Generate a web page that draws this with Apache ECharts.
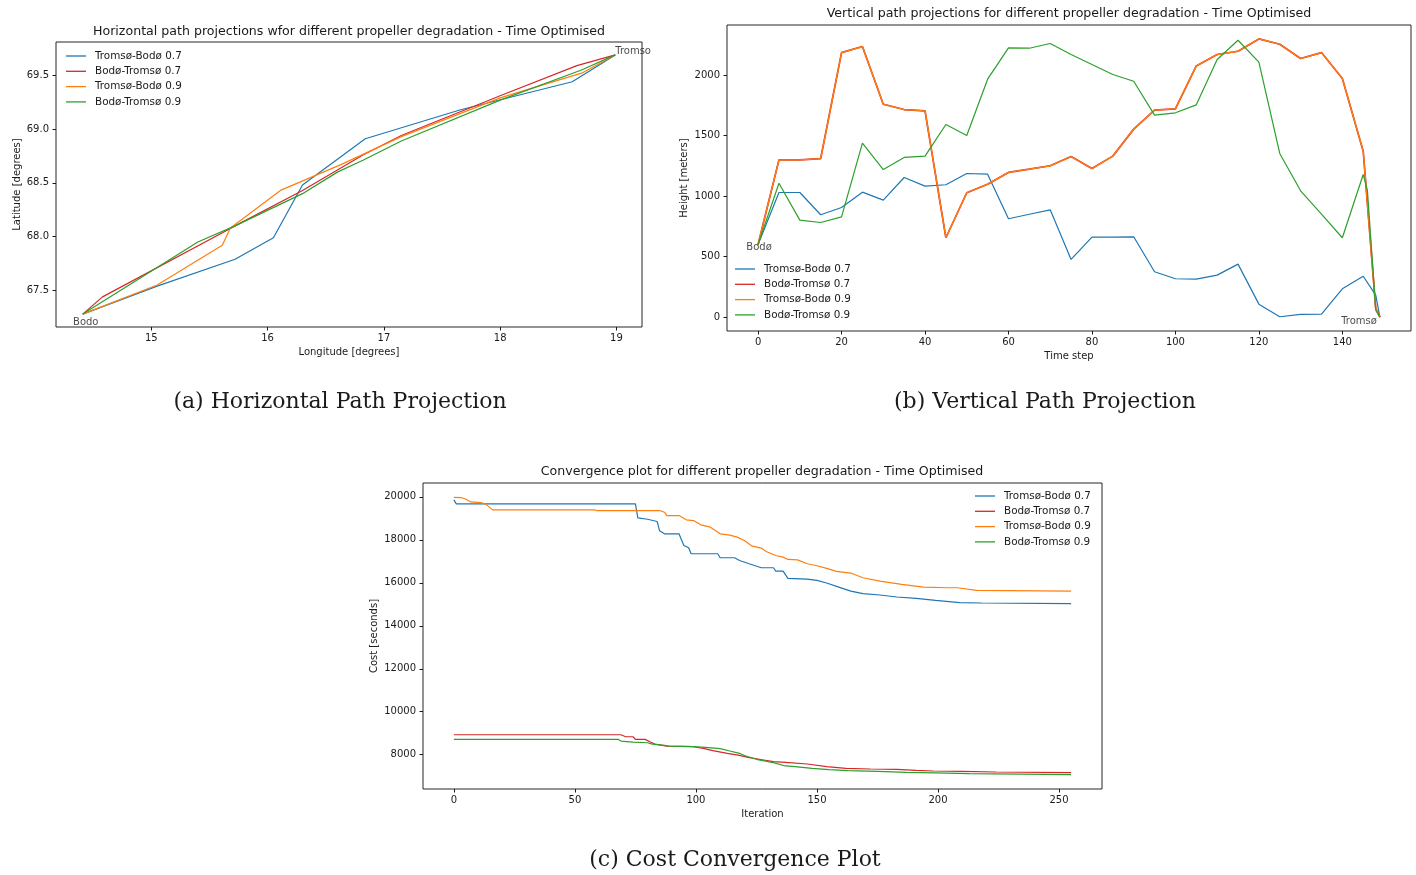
<!DOCTYPE html>
<html>
<head>
<meta charset="utf-8">
<title>Propeller degradation - Time Optimised</title>
<script src="https://cdn.jsdelivr.net/npm/echarts@6/dist/echarts.min.js"></script>
<style>
  html, body { margin: 0; padding: 0; background: #ffffff; }
  #chart { width: 1416px; height: 875px; }
</style>
</head>
<body>
<div id="chart"></div>
<script>
// ---- Series names and colours ----
const seriesNames = ['Tromsø-Bodø 0.7', 'Bodø-Tromsø 0.7', 'Tromsø-Bodø 0.9', 'Bodø-Tromsø 0.9'];
const seriesColors = ['#1f77b4', '#d62728', '#ff7f0e', '#2ca02c'];

// ---- (a) Horizontal path: [longitude, latitude] ----
const hPathTB07 = [[14.41,67.28],[15.05,67.54],[15.72,67.79],[16.05,67.99],[16.30,68.48],[16.84,68.91],[17.66,69.18],[18.62,69.44],[18.99,69.69]];
const hPathBT07 = [[14.41,67.28],[14.58,67.44],[15.72,68.10],[16.30,68.43],[16.82,68.76],[17.15,68.94],[18.00,69.31],[18.66,69.59],[18.99,69.69]];
const hPathTB09 = [[14.41,67.28],[15.05,67.55],[15.61,67.92],[15.68,68.08],[16.11,68.43],[16.63,68.67],[17.15,68.93],[18.00,69.29],[18.70,69.52],[18.99,69.69]];
const hPathBT09 = [[14.41,67.28],[15.40,67.95],[15.72,68.10],[16.30,68.40],[16.60,68.60],[16.82,68.71],[17.15,68.89],[18.00,69.27],[18.70,69.55],[18.99,69.69]];
const lonTicks = [15, 16, 17, 18, 19];
const latTicks = [67.5, 68.0, 68.5, 69.0, 69.5];
const hStart = { name: 'Bodo', lon: 14.41, lat: 67.28 };
const hEnd = { name: 'Tromso', lon: 18.99, lat: 69.69 };

// ---- (b) Vertical path: [time step, height] ----
const vPathTB07 = [[0,600],[5,1030],[10,1030],[15,846],[20,906],[25,1033],[30,967],[35,1154],[40,1083],[45,1094],[50,1187],[55,1182],[60,813],[65,850],[70,887],[75,477],[80,661],[85,661],[90,664],[95,375],[100,317],[105,314],[110,347],[115,438],[120,107],[125,3],[130,22],[135,25],[140,234],[145,338],[148,182],[149,0]];
const vPathBT07 = [[0,600],[5,1300],[10,1300],[15,1311],[20,2187],[25,2237],[30,1760],[35,1716],[40,1705],[45,656],[50,1028],[55,1099],[60,1196],[65,1223],[70,1251],[75,1328],[80,1229],[85,1331],[90,1554],[95,1711],[100,1722],[105,2077],[110,2171],[115,2198],[120,2300],[125,2256],[130,2138],[135,2187],[140,1973],[145,1372],[148,72],[149,0]];
const vPathTB09 = [[0,600],[5,1300],[10,1300],[15,1311],[20,2187],[25,2237],[30,1760],[35,1716],[40,1705],[45,656],[50,1028],[55,1099],[60,1196],[65,1223],[70,1251],[75,1328],[80,1229],[85,1331],[90,1554],[95,1711],[100,1722],[105,2077],[110,2171],[115,2198],[120,2300],[125,2256],[130,2138],[135,2187],[140,1973],[145,1372],[148,72],[149,0]];
const vPathBT09 = [[0,600],[5,1107],[10,802],[15,782],[20,829],[25,1438],[30,1220],[35,1320],[40,1331],[45,1592],[50,1501],[55,1967],[60,2226],[65,2223],[70,2262],[75,2171],[80,2088],[85,2006],[90,1950],[95,1670],[100,1689],[105,1755],[110,2130],[115,2289],[120,2108],[125,1353],[130,1044],[135,851],[140,656],[145,1179],[146,1050],[148,58],[149,0]];
const stepTicks = [0, 20, 40, 60, 80, 100, 120, 140];
const heightTicks = [0, 500, 1000, 1500, 2000];
const vStart = { name: 'Bodø', step: 0, height: 600 };
const vEnd = { name: 'Tromsø', step: 149, height: 0 };

// ---- (c) Cost convergence: [iteration, cost] ----
const costTB07 = [[0,19861],[1,19675],[75,19675],[76,19025],[80,18960],[84,18853],[85,18421],[87,18282],[93,18282],[95,17738],[97,17630],[98,17353],[109,17353],[110,17167],[116,17167],[118,17042],[122,16888],[127,16702],[132,16702],[133,16545],[136,16545],[138,16206],[146,16175],[150,16113],[154,15990],[159,15802],[164,15617],[169,15495],[176,15433],[183,15340],[191,15278],[199,15185],[209,15077],[218,15062],[255,15031]];
const costBT07 = [[0,8929],[69,8929],[71,8836],[74,8836],[75,8712],[79,8712],[81,8603],[83,8495],[88,8403],[99,8371],[103,8294],[107,8186],[113,8065],[118,7970],[122,7861],[128,7753],[132,7675],[137,7644],[146,7567],[154,7443],[162,7366],[172,7335],[183,7319],[191,7273],[198,7242],[210,7226],[224,7195],[255,7164]];
const costTB09 = [[0,19980],[3,19970],[5,19890],[7,19767],[11,19736],[13,19675],[16,19396],[58,19396],[59,19365],[85,19365],[87,19287],[88,19132],[93,19132],[96,18932],[99,18900],[102,18700],[106,18591],[108,18435],[110,18281],[114,18220],[117,18126],[120,17971],[123,17724],[127,17616],[129,17460],[133,17274],[136,17197],[138,17089],[142,17070],[146,16888],[150,16795],[154,16671],[158,16532],[164,16455],[169,16238],[176,16083],[185,15927],[194,15802],[204,15772],[208,15772],[216,15648],[255,15616]];
const costBT09 = [[0,8712],[68,8712],[69,8634],[74,8588],[80,8557],[82,8495],[87,8433],[89,8403],[99,8371],[104,8341],[110,8279],[114,8170],[118,8065],[120,7960],[125,7786],[132,7629],[137,7475],[141,7443],[148,7366],[155,7304],[163,7257],[175,7226],[187,7180],[199,7149],[213,7118],[255,7071]];
const iterTicks = [0, 50, 100, 150, 200, 250];
const costTicks = [8000, 10000, 12000, 14000, 16000, 18000, 20000];

// ---- Shared styles ----
const FONT = 'DejaVu Sans';
const INK = '#1a1a1a';
const LINE_W = 1.2;
// thin horizontal bar used as the legend key
const LEGEND_KEY = 'path://M0,0 L20,0 L20,1.3 L0,1.3 Z';

function valueAxis(gridIndex, min, max, ticks, name, nameGap, fmt, isY) {
  return {
    type: 'value', gridIndex, min, max,
    name, nameLocation: 'middle', nameGap,
    nameTextStyle: { fontFamily: FONT, fontSize: 10, color: INK },
    axisLine: { show: false, onZero: false },
    splitLine: { show: false },
    axisTick: { show: true, length: 3.5, lineStyle: { color: INK, width: 1 }, customValues: ticks },
    axisLabel: {
      customValues: ticks, fontFamily: FONT, fontSize: 10, color: INK,
      margin: isY ? 7 : 6,
      formatter: fmt || (v => String(v))
    }
  };
}

function lineSeries(name, idx, data, gridIndex, width, z) {
  return {
    type: 'line', name, data,
    xAxisIndex: gridIndex, yAxisIndex: gridIndex,
    showSymbol: false, symbol: 'none', animation: false,
    lineStyle: { color: seriesColors[idx], width: width || LINE_W },
    itemStyle: { color: seriesColors[idx] },
    z: z || 2
  };
}

function placeLabel(gridIndex, point, name, align, vAlign, offset) {
  return {
    type: 'scatter', name: '_' + name + gridIndex,
    xAxisIndex: gridIndex, yAxisIndex: gridIndex,
    data: [point], symbolSize: 0, silent: true, animation: false, z: 5,
    label: {
      show: true, position: [0, 0], formatter: name,
      align, verticalAlign: vAlign, offset,
      fontFamily: FONT, fontSize: 10, color: INK
    }
  };
}

function legendAt(left, top) {
  return {
    data: seriesNames.map(n => ({ name: n, icon: LEGEND_KEY })),
    orient: 'vertical', left, top,
    padding: 0, itemWidth: 20, itemHeight: 10, itemGap: 5.3,
    selectedMode: false,
    textStyle: { fontFamily: FONT, fontSize: 10.4, color: INK, padding: [0, 0, 0, 4] }
  };
}

function titleAt(text, x, y, size, family) {
  return {
    text, left: x, top: y, textAlign: 'center', padding: 0,
    textStyle: { fontFamily: family, fontSize: size, fontWeight: 'normal', color: INK }
  };
}

const chart = echarts.init(document.getElementById('chart'), null, { renderer: 'canvas' });

const gridStyle = { show: true, borderColor: '#262626', borderWidth: 1, backgroundColor: 'transparent', containLabel: false };

const option = {
  backgroundColor: '#ffffff',
  animation: false,
  title: [
    titleAt('Horizontal path projections wfor different propeller degradation - Time Optimised', 349, 25.5, 12.6, FONT),
    titleAt('Vertical path projections for different propeller degradation - Time Optimised', 1069, 7.5, 12.6, FONT),
    titleAt('Convergence plot for different propeller degradation - Time Optimised', 762, 465.5, 12.6, FONT),
    titleAt('(a) Horizontal Path Projection', 340, 391, 22, 'DejaVu Serif'),
    titleAt('(b) Vertical Path Projection', 1045, 391, 22, 'DejaVu Serif'),
    titleAt('(c) Cost Convergence Plot', 735, 849, 22, 'DejaVu Serif')
  ],
  legend: [legendAt(66, 51), legendAt(735, 264), legendAt(975, 491)],
  grid: [
    Object.assign({ left: 56, top: 42, width: 586, height: 285 }, gridStyle),
    Object.assign({ left: 727, top: 25, width: 684, height: 306 }, gridStyle),
    Object.assign({ left: 423, top: 483, width: 679, height: 306 }, gridStyle)
  ],
  xAxis: [
    valueAxis(0, 14.18, 19.22, lonTicks, 'Longitude [degrees]', 20),
    valueAxis(1, -7.45, 156.45, stepTicks, 'Time step', 20),
    valueAxis(2, -12.75, 267.75, iterTicks, 'Iteration', 20)
  ],
  yAxis: [
    valueAxis(0, 67.16, 69.81, latTicks, 'Latitude [degrees]', 34, v => v.toFixed(1), true),
    valueAxis(1, -115, 2415, heightTicks, 'Height [meters]', 38, null, true),
    valueAxis(2, 6403, 20647, costTicks, 'Cost [seconds]', 44, null, true)
  ],
  series: [
    lineSeries(seriesNames[0], 0, hPathTB07, 0),
    lineSeries(seriesNames[1], 1, hPathBT07, 0),
    lineSeries(seriesNames[2], 2, hPathTB09, 0),
    lineSeries(seriesNames[3], 3, hPathBT09, 0),
    placeLabel(0, [hStart.lon, hStart.lat], hStart.name, 'center', 'top', [3, 3]),
    placeLabel(0, [hEnd.lon, hEnd.lat], hEnd.name, 'left', 'middle', [0, -3]),

    lineSeries(seriesNames[0], 0, vPathTB07, 1),
    lineSeries(seriesNames[1], 1, vPathBT07, 1, 1.7),
    lineSeries(seriesNames[2], 2, vPathTB09, 1, 1.3),
    lineSeries(seriesNames[3], 3, vPathBT09, 1),
    placeLabel(1, [vStart.step, vStart.height], vStart.name, 'center', 'middle', [1, 3]),
    placeLabel(1, [vEnd.step, vEnd.height], vEnd.name, 'right', 'middle', [-3, 4]),

    lineSeries(seriesNames[0], 0, costTB07, 2),
    lineSeries(seriesNames[1], 1, costBT07, 2),
    lineSeries(seriesNames[2], 2, costTB09, 2),
    lineSeries(seriesNames[3], 3, costBT09, 2)
  ]
};

chart.setOption(option);
</script>
</body>
</html>
